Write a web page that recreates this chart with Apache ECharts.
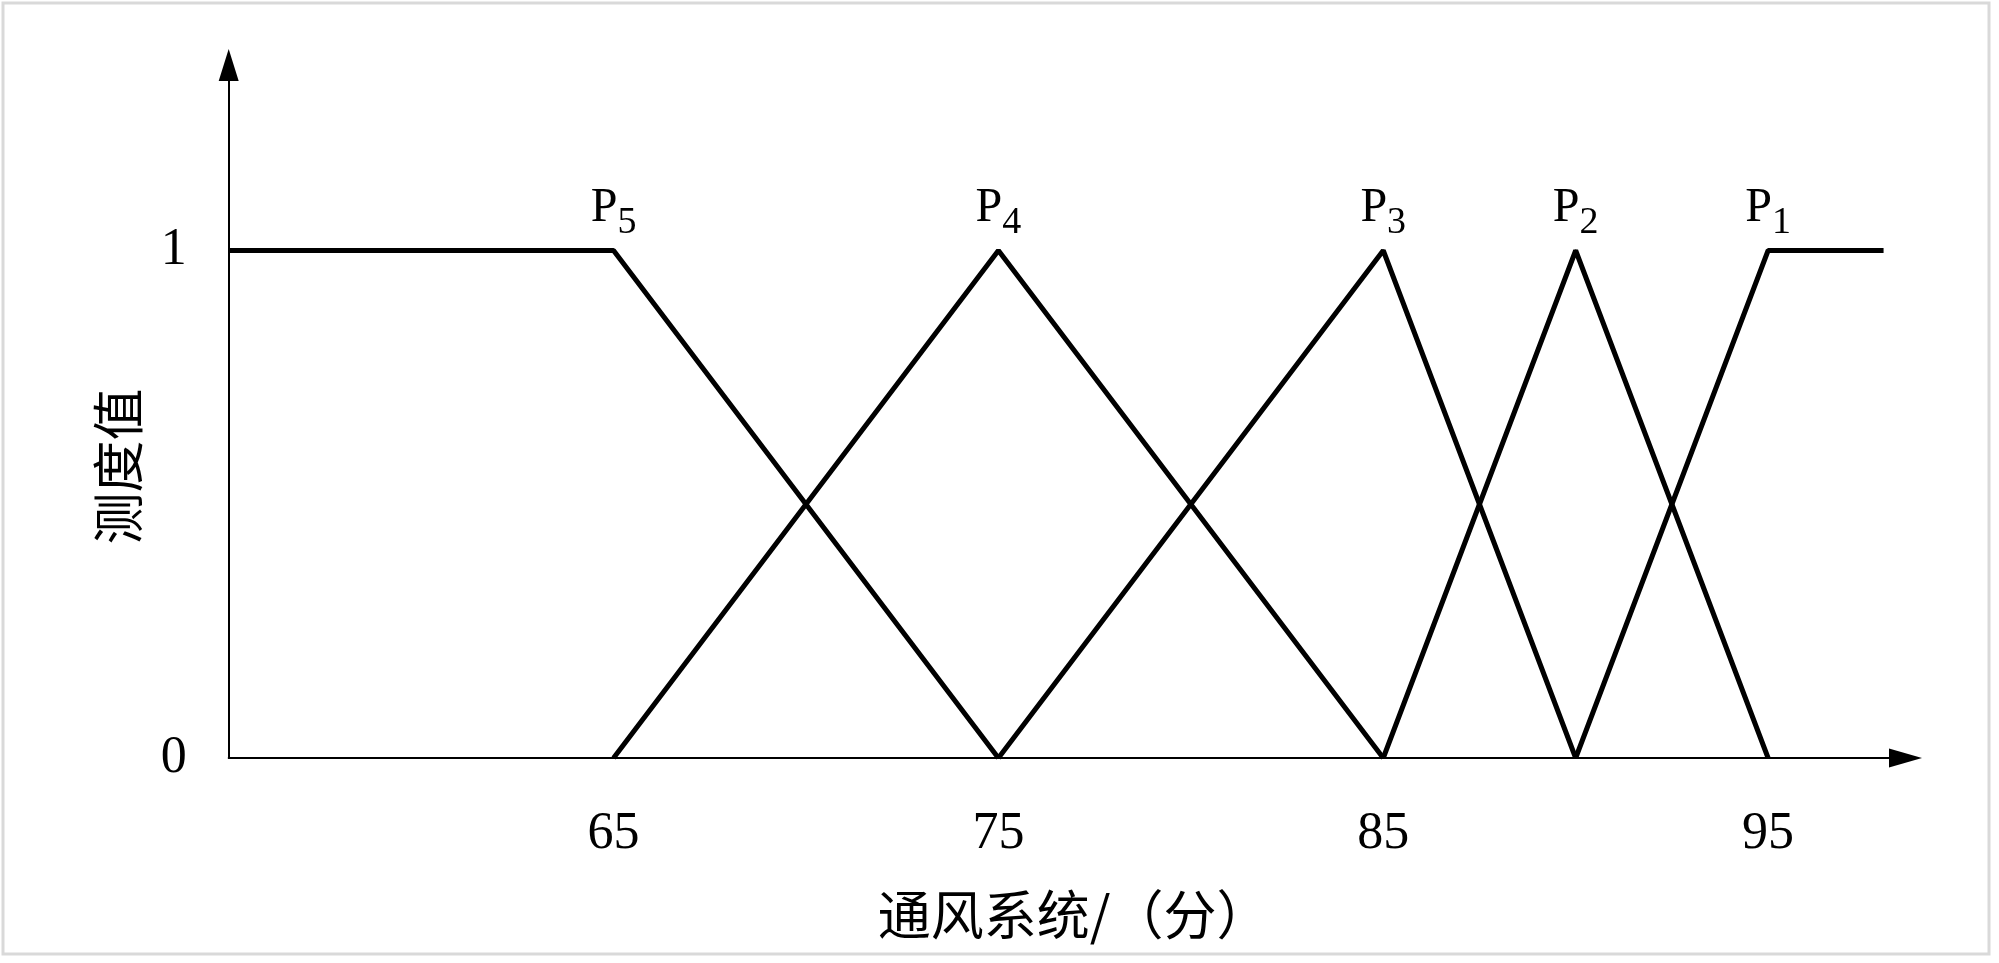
<!DOCTYPE html>
<html>
<head>
<meta charset="utf-8">
<script src="https://cdn.jsdelivr.net/npm/echarts@6/dist/echarts.min.js"></script>
<style>
  html, body { margin: 0; padding: 0; background: #fff; }
  #main { width: 1999px; height: 963px; }
</style>
</head>
<body>
<div id="main"></div>
<script>
// 隶属度函数折线（x：通风系统得分，y：测度值）
var p5 = [[55, 1], [65, 1], [75, 0]];
var p4 = [[65, 0], [75, 1], [85, 0]];
var p3 = [[75, 0], [85, 1], [90, 0]];
var p2 = [[85, 0], [90, 1], [95, 0]];
var p1 = [[90, 0], [95, 1], [98, 1]];
var peakNames = ["5", "4", "3", "2", "1"]; // 下标
var peakIndex = [1, 1, 1, 1, 1];           // 标签所在点
var xTicks = [65, 75, 85, 95];
var yTicks = [0, 1];

var chart = echarts.init(document.getElementById("main"));

var serif = "'Liberation Serif', 'DejaVu Serif', serif";
var cjk = "'Noto Sans CJK SC', sans-serif";

function makeSeries(data, sub, idx) {
  return {
    type: "line",
    symbol: "circle",
    symbolSize: 2,
    showSymbol: true,
    silent: true,
    itemStyle: { color: "#000" },
    lineStyle: { color: "#000", width: 5 },
    data: data.map(function (d, i) {
      if (i !== idx) return { value: d, symbol: "none" };
      return {
        value: d,
        label: {
          show: true,
          position: "top",
          distance: 7,
          formatter: "{p|P}{s|" + sub + "}",
          rich: {
            p: { fontFamily: serif, fontSize: 48, lineHeight: 68, color: "#000" },
            s: { fontFamily: serif, fontSize: 38, lineHeight: 36, verticalAlign: "bottom", color: "#000" }
          }
        }
      };
    })
  };
}

var option = {
  backgroundColor: "#fff",
  animation: false,
  graphic: [
    {
      type: "rect",
      shape: { x: 3, y: 3, width: 1986, height: 951 },
      style: { fill: "none", stroke: "#d9d9d9", lineWidth: 3 },
      silent: true
    }
  ],
  grid: { left: 228.7, right: 93.5, top: 65, bottom: 205 },
  xAxis: {
    type: "value",
    min: 55,
    max: 98.57,
    interval: 10,
    splitLine: { show: false },
    axisTick: { show: false },
    axisLine: {
      show: true,
      symbol: ["none", "triangle"],
      symbolSize: [19, 33],
      lineStyle: { color: "#000", width: 2 }
    },
    axisLabel: {
      margin: 76,
      verticalAlign: "middle",
      fontFamily: serif,
      fontSize: 52,
      color: "#000",
      showMaxLabel: false,
      formatter: function (v) { return xTicks.indexOf(v) >= 0 ? String(v) : ""; }
    },
    name: "通风系统/（分）",
    nameLocation: "middle",
    nameGap: 157,
    nameTextStyle: {
      fontFamily: cjk,
      fontSize: 53,
      color: "#000",
      verticalAlign: "middle",
      padding: [0, 0, 0, 13]
    }
  },
  yAxis: {
    type: "value",
    min: 0,
    max: 1.3655,
    interval: 1,
    splitLine: { show: false },
    axisTick: { show: false },
    axisLine: {
      show: true,
      symbol: ["none", "triangle"],
      symbolSize: [20, 32],
      lineStyle: { color: "#000", width: 2 }
    },
    axisLabel: {
      margin: 42,
      fontFamily: serif,
      fontSize: 52,
      color: "#000",
      showMaxLabel: false,
      formatter: function (v) { return yTicks.indexOf(v) >= 0 ? String(v) : ""; }
    },
    name: "测度值",
    nameLocation: "middle",
    nameRotate: 90,
    nameGap: 110,
    nameTextStyle: {
      fontFamily: cjk,
      fontSize: 52,
      color: "#000",
      align: "center",
      verticalAlign: "middle",
      padding: [0, 110, 0, 0]
    }
  },
  series: [
    makeSeries(p5, peakNames[0], peakIndex[0]),
    makeSeries(p4, peakNames[1], peakIndex[1]),
    makeSeries(p3, peakNames[2], peakIndex[2]),
    makeSeries(p2, peakNames[3], peakIndex[3]),
    makeSeries(p1, peakNames[4], peakIndex[4])
  ]
};

chart.setOption(option);
</script>
</body>
</html>
